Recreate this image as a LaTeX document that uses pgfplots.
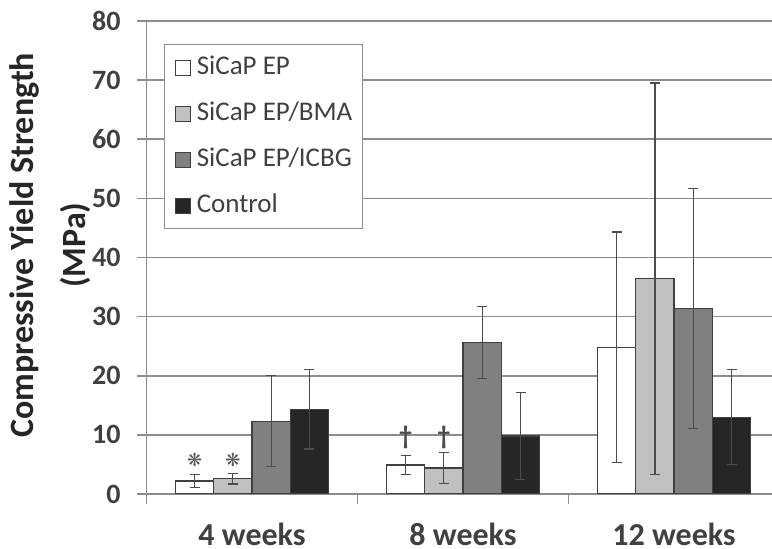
\documentclass[border=0pt]{standalone}
\usepackage{pgfplots}
\pgfplotsset{compat=1.18}
\usepackage{fontspec}
\setmainfont{Carlito}
\newfontfamily\djv{DejaVu Sans}
\definecolor{barlight}{HTML}{C0C0C0}
\definecolor{barmid}{HTML}{808080}
\definecolor{bardark}{HTML}{262626}
\definecolor{gridc}{HTML}{8C8C8C}
\definecolor{txt}{HTML}{404040}
\definecolor{edge}{HTML}{404040}
\pgfplotsset{sqlegend/.style={legend image code/.code={\draw[##1] (0pt,-3.75pt) rectangle (7.5pt,3.75pt);}}}

\pgfplotstableread{
x y e
0 2.2 1.05
1 4.9 1.6
2 24.8 19.5
}\tEP
\pgfplotstableread{
x y e
0 2.6 0.9
1 4.4 2.6
2 36.4 33.1
}\tBMA
\pgfplotstableread{
x y e
0 12.3 7.7
1 25.6 6.1
2 31.4 20.3
}\tICBG
\pgfplotstableread{
x y e
0 14.3 6.7
1 9.8 7.4
2 13.0 8.0
}\tCtrl

\begin{document}
\begin{tikzpicture}
\useasboundingbox (-73.25pt,-27.5pt) rectangle (312.75pt,247pt);
\begin{axis}[
  scale only axis, width=312.75pt, height=236.5pt,
  at={(0pt,0pt)}, anchor=south west,
  ybar=0pt, bar width=0.1815,
  xmin=-0.5, xmax=2.464, ymin=0, ymax=80,
  xtick={0,1,2}, xticklabels={4 weeks,8 weeks,12 weeks},
  major x tick style={draw=none},
  minor xtick={-0.5,0.5,1.5},
  minor x tick style={draw=gridc, line width=0.8pt},
  minor tick length=5pt,
  xtick align=outside,
  ytick={0,10,...,80},
  ytick align=outside, major tick length=4.5pt,
  ytick style={draw=gridc, line width=0.8pt},
  ymajorgrids, grid style={draw=gridc, line width=0.8pt},
  axis x line*=bottom, axis y line*=left,
  axis line style={-, draw=gridc, line width=0.8pt},
  /pgf/number format/assume math mode=true,
  yticklabel style={font=\bfseries\fontsize{14}{14}\selectfont, text=txt, inner sep=0pt, anchor=east, xshift=-8.25pt},
  xticklabel style={font=\bfseries\fontsize{16}{16}\selectfont, text=txt, inner sep=0pt, anchor=base, yshift=-21.5pt},
  ylabel={Compressive Yield Strength\\[6pt](MPa)},
  ylabel style={align=center, font=\bfseries\fontsize{17}{20}\selectfont, text=black!85,
     at={(axis description cs:-0.1543,0.526)}, anchor=center},
  legend style={at={(rel axis cs:0.028,0.951)}, anchor=north west, draw=gridc, line width=0.6pt,
     fill=white, font=\fontsize{13.5}{16}\selectfont, text=txt, inner sep=5pt, row sep=10pt,
     column sep=3pt, nodes={inner sep=0pt, text height=10pt, text depth=3pt}},
  legend cell align=left,
  error bars/y dir=both, error bars/y explicit,
  error bars/error bar style={line width=0.6pt, draw=black!70},
  error bars/error mark options={rotate=90, mark size=2.5pt, line width=0.6pt, draw=black!70},
]
\addplot[fill=white, draw=edge, line width=0.6pt, sqlegend]
  table[x=x, y=y, y error=e] {\tEP};
\addlegendentry{SiCaP EP}
\addplot[fill=barlight, draw=edge, line width=0.6pt, sqlegend]
  table[x=x, y=y, y error=e] {\tBMA};
\addlegendentry{SiCaP EP/BMA}
\addplot[fill=barmid, draw=edge, line width=0.6pt, sqlegend]
  table[x=x, y=y, y error=e] {\tICBG};
\addlegendentry{SiCaP EP/ICBG}
\addplot[fill=bardark, draw=edge, line width=0.6pt, sqlegend]
  table[x=x, y=y, y error=e] {\tCtrl};
\addlegendentry{Control}

\node[font=\djv\fontsize{9}{9}\selectfont, text=black!65] at (axis cs:-0.272,5.75) {❋};
\node[font=\djv\fontsize{9}{9}\selectfont, text=black!65] at (axis cs:-0.0908,5.75) {❋};
\node[font=\bfseries\fontsize{13}{13}\selectfont, text=black!70] at (axis cs:0.728,9.6) {†};
\node[font=\bfseries\fontsize{13}{13}\selectfont, text=black!70] at (axis cs:0.909,9.6) {†};
\end{axis}
\end{tikzpicture}
\end{document}
